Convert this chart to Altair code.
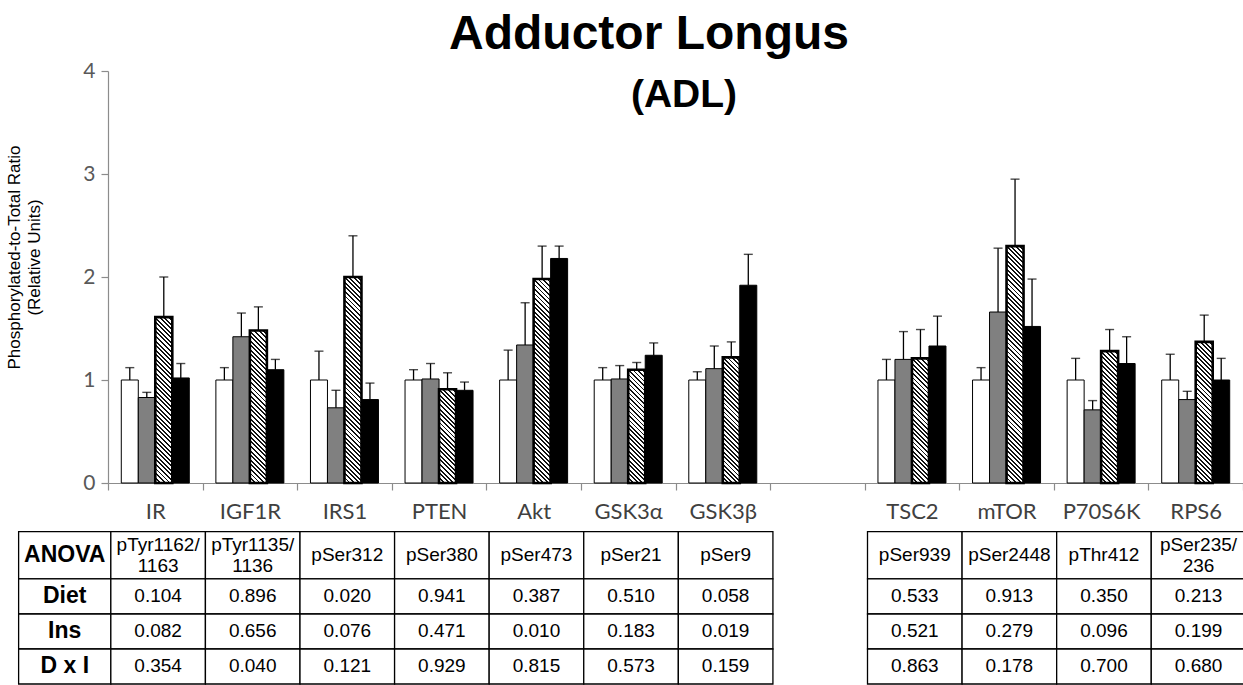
import math
import altair as alt
import pandas as pd

# ---------------- data ----------------
categories = ["IR", "IGF1R", "IRS1", "PTEN", "Akt", "GSK3α", "GSK3β", " ",
              "TSC2", "mTOR", "P70S6K", "RPS6"]
proteins = ["IR", "IGF1R", "IRS1", "PTEN", "Akt", "GSK3α", "GSK3β",
            "TSC2", "mTOR", "P70S6K", "RPS6"]
groups = ["Control", "Control + Insulin", "Diet", "Diet + Insulin"]

mean_control = [1.00, 1.00, 1.00, 1.00, 1.00, 1.00, 1.00, 1.00, 1.00, 1.00, 1.00]
mean_control_ins = [0.83, 1.42, 0.73, 1.01, 1.34, 1.01, 1.11, 1.20, 1.66, 0.71, 0.81]
mean_diet = [1.61, 1.48, 2.00, 0.91, 1.98, 1.10, 1.22, 1.21, 2.30, 1.28, 1.37]
mean_diet_ins = [1.02, 1.10, 0.81, 0.90, 2.18, 1.24, 1.92, 1.33, 1.52, 1.16, 1.00]

sem_control = [0.12, 0.12, 0.28, 0.10, 0.29, 0.12, 0.08, 0.20, 0.12, 0.21, 0.25]
sem_control_ins = [0.05, 0.23, 0.17, 0.15, 0.41, 0.13, 0.22, 0.27, 0.62, 0.09, 0.08]
sem_diet = [0.39, 0.23, 0.40, 0.16, 0.32, 0.07, 0.15, 0.28, 0.65, 0.21, 0.26]
sem_diet_ins = [0.14, 0.10, 0.16, 0.08, 0.12, 0.12, 0.30, 0.29, 0.46, 0.26, 0.21]

row_labels = ["ANOVA", "Diet", "Ins", "D x I"]
sites = ["pTyr1162/\n1163", "pTyr1135/\n1136", "pSer312", "pSer380", "pSer473",
         "pSer21", "pSer9", "pSer939", "pSer2448", "pThr412", "pSer235/\n236"]
diet_p = ["0.104", "0.896", "0.020", "0.941", "0.387", "0.510", "0.058",
          "0.533", "0.913", "0.350", "0.213"]
ins_p = ["0.082", "0.656", "0.076", "0.471", "0.010", "0.183", "0.019",
         "0.521", "0.279", "0.096", "0.199"]
dxi_p = ["0.354", "0.040", "0.121", "0.929", "0.815", "0.573", "0.159",
         "0.863", "0.178", "0.700", "0.680"]

title_lines = ["Adductor Longus", "(ADL)"]
y_title = ["Phosphorylated-to-Total Ratio", "(Relative Units)"]

# ---------------- layout / style ----------------
W, H = 1135, 412
PAD = {"left": 108, "top": 71, "right": 0, "bottom": 202}
Y_MAX = 4
BAND = W / len(categories)
OFF_PAD = 0.782
BAR_W = BAND / (len(groups) + 2 * OFF_PAD)
PX_PER_UNIT = H / Y_MAX
AXIS_GRAY = "#8c8c8c"
TABLE_LINE_H = 21
COL_SHIFT = 0.03

means = [mean_control, mean_control_ins, mean_diet, mean_diet_ins]
sems = [sem_control, sem_control_ins, sem_diet, sem_diet_ins]
rows = []
for g, m_list, s_list in zip(groups, means, sems):
    for p, m, s in zip(proteins, m_list, s_list):
        rows.append({"category": p, "group": g, "mean": m, "sem": s,
                     "upper": round(m + s, 3)})
bar_df = pd.DataFrame(rows)

x_enc = alt.X("category:N",
              scale=alt.Scale(domain=categories, paddingInner=0, paddingOuter=0),
              axis=alt.Axis(title=None, labelAngle=0, domainColor=AXIS_GRAY,
                            tickColor=AXIS_GRAY, tickSize=7, tickBand="extent",
                            labelFont="Lato", labelFontSize=22, labelColor="#404040",
                            labelPadding=11, domainWidth=1.2, tickWidth=1.2))
xoff_enc = alt.XOffset("group:N",
                       scale=alt.Scale(domain=groups, paddingInner=0,
                                       paddingOuter=OFF_PAD))
y_scale = alt.Scale(domain=[0, Y_MAX], nice=False)
y_axis = alt.Axis(values=[0, 1, 2, 3, 4], grid=False, title=y_title,
                  titleFont="Liberation Sans", titleFontSize=17,
                  titleFontWeight="normal", titleColor="black",
                  titleAngle=270, titleX=-89, titleY=186,
                  titleAlign="center", titleBaseline="alphabetic",
                  titleLineHeight=20,
                  domainColor=AXIS_GRAY, tickColor=AXIS_GRAY, tickSize=7,
                  domainWidth=1.2, tickWidth=1.2,
                  labelFont="Lato", labelFontSize=21, labelColor="#595959",
                  labelPadding=6)

base = alt.Chart(bar_df)

plain = base.transform_filter(alt.datum.group != "Diet").mark_bar(
    stroke="black", strokeWidth=1).encode(
    x=x_enc, xOffset=xoff_enc,
    y=alt.Y("mean:Q", scale=y_scale, axis=y_axis),
    fill=alt.Fill("group:N",
                  scale=alt.Scale(domain=groups,
                                  range=["white", "#808080", "white", "black"]),
                  legend=None))


def hatch(w, h, period=3.2, frac=0.42):
    n = max(1, round((w + h) / (math.sqrt(2) * period)))
    stops = []
    for k in range(n):
        a, b, c = k / n, (k + frac) / n, (k + 1) / n
        stops += [{"offset": a, "color": "#111111"},
                  {"offset": b, "color": "#111111"},
                  {"offset": b, "color": "#ffffff"},
                  {"offset": c, "color": "#ffffff"}]
    kk = (w + h) / (w * w + h * h)
    return {"gradient": "linear", "x1": 0, "y1": 1,
            "x2": kk * w, "y2": 1 - kk * h, "stops": stops}


hatched_layers = []
for p, m in zip(proteins, mean_diet):
    hatched_layers.append(
        base.transform_filter((alt.datum.group == "Diet") & (alt.datum.category == p))
        .mark_bar(fill=hatch(BAR_W, m * PX_PER_UNIT), stroke="black", strokeWidth=2.6)
        .encode(x=x_enc, xOffset=xoff_enc,
                y=alt.Y("mean:Q", scale=y_scale, axis=y_axis)))

err_rule = base.mark_rule(color="black", strokeWidth=1.3).encode(
    x=x_enc, xOffset=xoff_enc,
    y=alt.Y("mean:Q", scale=y_scale, axis=y_axis), y2="upper:Q")
err_cap = base.mark_tick(color="black", thickness=1.4, size=9).encode(
    x=x_enc, xOffset=xoff_enc,
    y=alt.Y("upper:Q", scale=y_scale, axis=y_axis))

bars_layer = alt.layer(plain, *hatched_layers, err_rule, err_cap)

# ---------------- ANOVA table ----------------
row_heights = [1.35, 1, 1, 1]
row_tops = [sum(row_heights[:i]) for i in range(len(row_heights))]
TABLE_H = sum(row_heights)
ANOVA_W = 0.975
cells = []
columns = [("ANOVA", -ANOVA_W + COL_SHIFT, COL_SHIFT, row_labels, "head")]
for j, p in enumerate(proteins):
    ci = categories.index(p)
    columns.append((p, ci + COL_SHIFT, ci + 1 + COL_SHIFT,
                    [sites[j], diet_p[j], ins_p[j], dxi_p[j]], "cell"))
for name, x0, x1, labels, kind in columns:
    for r, lab in enumerate(labels):
        y0 = row_tops[r]
        y1 = y0 + row_heights[r]
        cells.append({"x0": x0, "x1": x1, "xc": (x0 + x1) / 2,
                      "y0": y0, "y1": y1, "yc": (y0 + y1) / 2,
                      "label": lab, "kind": kind,
                      "multi": "\n" in lab})
table_df = pd.DataFrame(cells)

tx = alt.Scale(domain=[0, len(categories)], range=[0, W], zero=False, nice=False)
ty = alt.Scale(domain=[0, TABLE_H], range=[460.7, 613], zero=False, nice=False)

tbase = alt.Chart(table_df)
t_rect = tbase.mark_rect(fill="white", stroke="black", strokeWidth=1.3).encode(
    x=alt.X("x0:Q", scale=tx, axis=None), x2="x1:Q",
    y=alt.Y("y0:Q", scale=ty, axis=None), y2="y1:Q")
cell_style = dict(font="Liberation Sans", fontSize=19, lineBreak="\n",
                  lineHeight=TABLE_LINE_H, baseline="middle", align="center",
                  color="black")
t_text = tbase.transform_filter(
    (alt.datum.kind == "cell") & (alt.datum.multi == False)).mark_text(
    **cell_style).encode(
    x=alt.X("xc:Q", scale=tx, axis=None),
    y=alt.Y("yc:Q", scale=ty, axis=None), text="label:N")
t_text2 = tbase.transform_filter(
    (alt.datum.kind == "cell") & (alt.datum.multi == True)).mark_text(
    dy=-TABLE_LINE_H / 2, **cell_style).encode(
    x=alt.X("xc:Q", scale=tx, axis=None),
    y=alt.Y("yc:Q", scale=ty, axis=None), text="label:N")
t_head = tbase.transform_filter(alt.datum.kind == "head").mark_text(
    font="Liberation Sans", fontSize=23, fontWeight="bold",
    baseline="middle", align="center", color="black").encode(
    x=alt.X("xc:Q", scale=tx, axis=None),
    y=alt.Y("yc:Q", scale=ty, axis=None), text="label:N")
table_layer = alt.layer(t_rect, t_text, t_text2, t_head)

# ---------------- titles ----------------
t1 = alt.Chart(pd.DataFrame({"t": [title_lines[0]]})).mark_text(
    font="Liberation Sans", fontSize=48, fontWeight="bold", align="center",
    baseline="alphabetic", color="black").encode(
    text="t:N", x=alt.value(541), y=alt.value(-22))
t2 = alt.Chart(pd.DataFrame({"t": [title_lines[1]]})).mark_text(
    font="Liberation Sans", fontSize=39, fontWeight="bold", align="center",
    baseline="alphabetic", color="black").encode(
    text="t:N", x=alt.value(576), y=alt.value(36))

chart = alt.layer(bars_layer, table_layer, t1, t2).resolve_scale(
    x="independent", y="independent").properties(
    width=W, height=H,
    autosize=alt.AutoSizeParams(type="none"),
    padding=PAD,
    background="white").configure_view(stroke=None)

chart.save("out.html", embed_options={"renderer": "svg", "actions": False})
